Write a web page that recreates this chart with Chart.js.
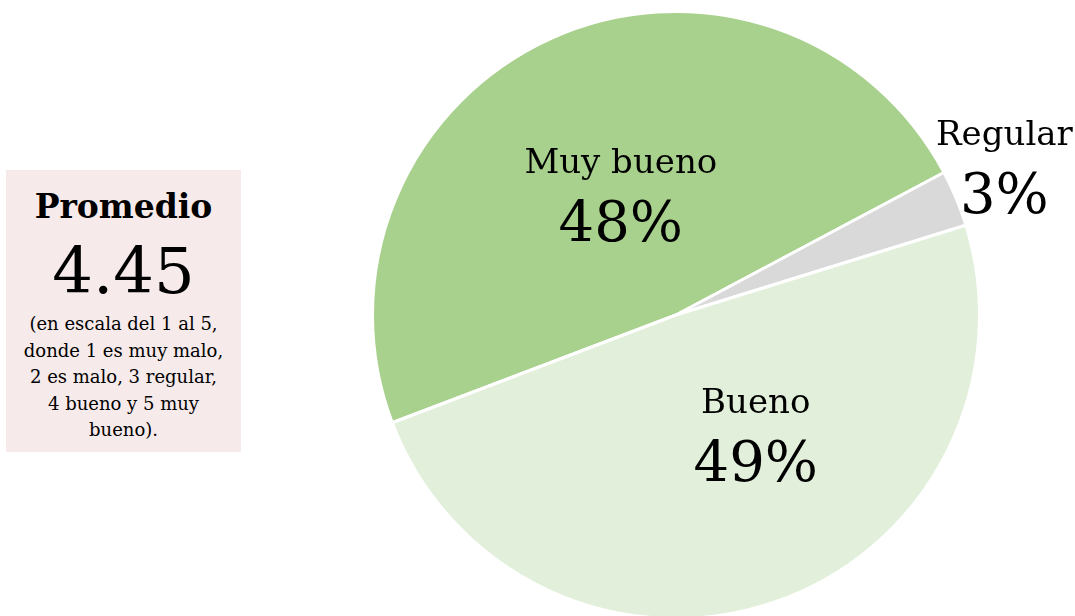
<!DOCTYPE html>
<html>
<head>
<meta charset="utf-8">
<script src="https://cdn.jsdelivr.net/npm/chart.js@4"></script>
<style>
  body { margin: 0; width: 1075px; height: 616px; overflow: hidden; background: #fff; font-family: "DejaVu Serif", serif; }
  #box { position: absolute; left: 6px; top: 170px; width: 235px; height: 282px; background: #F6EAEA; text-align: center; color: #000; }
  #box .t { font-weight: bold; font-size: 33px; line-height: 40px; margin-top: 17px; }
  #box .v { font-size: 64px; line-height: 76px; margin-top: 6px; }
  #box .n { font-size: 18px; line-height: 26.5px; margin-top: 2px; }
  #wrap { position: absolute; left: 366px; top: 5px; width: 709px; height: 620px; }
</style>
</head>
<body>
<div id="box">
  <div class="t">Promedio</div>
  <div class="v" id="avg"></div>
  <div class="n">(en escala del 1 al 5,<br>donde 1 es muy malo,<br>2 es malo, 3 regular,<br>4 bueno y 5 muy<br>bueno).</div>
</div>
<div id="wrap"><canvas id="myChart" width="709" height="620"></canvas></div>
<script>
const labels = ['Muy bueno', 'Regular', 'Bueno'];
const values = [48, 3, 49];
const colors = ['#A9D18E', '#D9D9D9', '#E2EFDA'];
const promedio = 4.45;

// label placement: distance as fraction of radius, angle shift in degrees
const labelPos = [
  {dist: 0.44, shift: 0},
  {dist: 1.19, shift: -2},
  {dist: 0.47, shift: -15}
];

document.getElementById('avg').textContent = promedio.toFixed(2);

var sliceLabels = {
  id: 'sliceLabels',
  afterDatasetsDraw: function(chart) {
    var ctx = chart.ctx;
    var meta = chart.getDatasetMeta(0);
    ctx.save();
    ctx.fillStyle = '#000';
    ctx.textAlign = 'center';
    ctx.textBaseline = 'alphabetic';
    meta.data.forEach(function(arc, i) {
      var p = labelPos[i];
      var mid = (arc.startAngle + arc.endAngle) / 2 + p.shift * Math.PI / 180;
      var r = arc.outerRadius * p.dist;
      var x = arc.x + Math.cos(mid) * r;
      var y = arc.y + Math.sin(mid) * r;
      ctx.font = '34px "DejaVu Serif"';
      ctx.fillText(labels[i], x, y - 20);
      ctx.font = '56px "DejaVu Serif"';
      ctx.fillText(values[i] + '%', x, y + 48);
    });
    ctx.restore();
  }
};

var myChart = new Chart(document.getElementById('myChart'), {
  type: 'pie',
  data: {
    labels: labels,
    datasets: [{
      data: values,
      backgroundColor: colors,
      borderColor: '#ffffff',
      borderWidth: 3
    }]
  },
  options: {
    responsive: false,
    animation: false,
    rotation: 249.2,
    layout: { padding: { left: 5, top: 5, bottom: 5, right: 94 } },
    plugins: {
      legend: { display: false },
      tooltip: { enabled: false }
    }
  },
  plugins: [sliceLabels]
});
</script>
</body>
</html>
